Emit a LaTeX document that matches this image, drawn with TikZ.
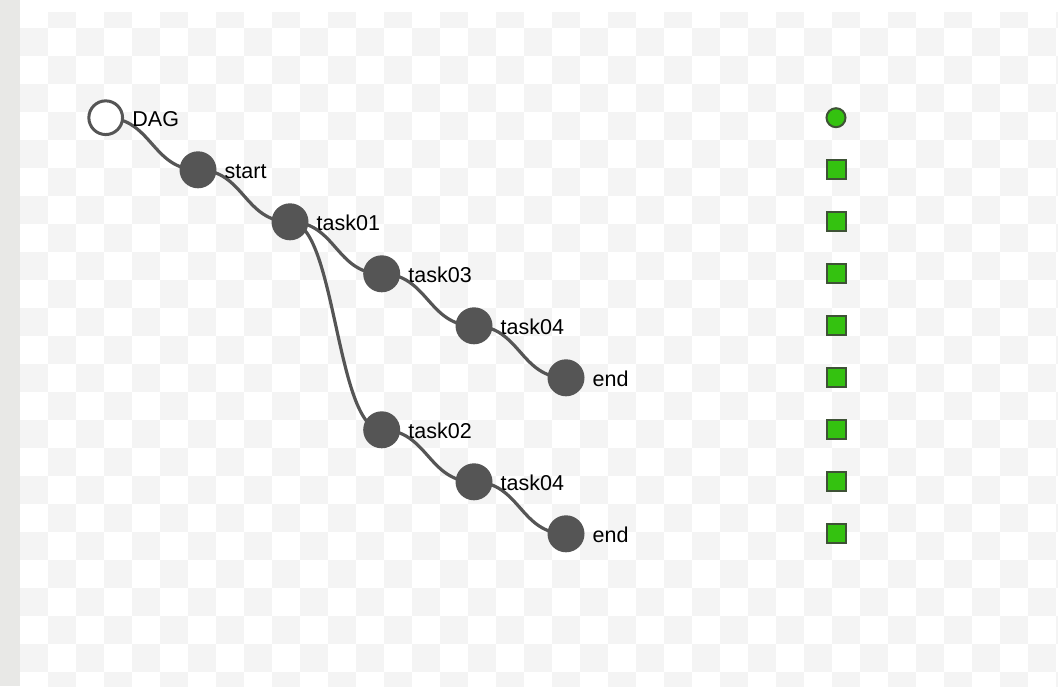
\documentclass[tikz,border=0pt]{standalone}
\usepackage{fontspec}
\setmainfont{Liberation Sans}
\usepackage{xcolor}

\definecolor{nodegray}{RGB}{85,85,85}
\definecolor{cellgray}{RGB}{244,244,244}
\definecolor{sidegray}{RGB}{232,232,230}
\definecolor{okgreen}{RGB}{52,194,16}
\definecolor{okedge}{RGB}{62,82,54}

\pgfdeclarelayer{back}
\pgfdeclarelayer{links}
\pgfsetlayers{back,links,main}

\begin{document}
\begin{tikzpicture}[x=1pt,y=-1pt,
  task/.style={circle, fill=nodegray, minimum size=37pt, inner sep=0pt},
  root/.style={circle, draw=nodegray, line width=3pt, fill=white, minimum size=33.7pt, inner sep=0pt},
  tasklabel/.style={anchor=base west, inner sep=0pt, font=\fontsize{21.5}{25}\selectfont, text=black},
  link/.style={nodegray, line width=3.2pt},
  okdot/.style={circle, draw=okedge, fill=okgreen, line width=2pt, minimum size=19pt, inner sep=0pt},
  oksq/.style={rectangle, draw=okedge, fill=okgreen, line width=2pt, minimum size=19pt, inner sep=0pt}]
\useasboundingbox (0,0) rectangle (1058,686);

% checkered canvas
\begin{pgfonlayer}{back}
\fill[sidegray] (0,0) rectangle (20,686);
\begin{scope}
\clip (20,12) rectangle (1058,686);
\foreach \r in {0,...,24} {
  \foreach \c in {0,...,37} {
    \pgfmathtruncatemacro\odd{mod(\r+\c,2)}
    \ifnum\odd=1
      \fill[cellgray] (20+28*\c,28*\r) rectangle +(28,28);
    \fi
  }
}
\end{scope}
\end{pgfonlayer}

% tree
\node[root] (dag) at (105.7,117.7) {};
\node[task] (start) at (198,169.8) {};
\node[task] (t01) at (290,221.8) {};
\node[task] (t03) at (381.7,273.8) {};
\node[task] (t04a) at (474,325.8) {};
\node[task] (enda) at (566,377.8) {};
\node[task] (t02) at (381.7,429.8) {};
\node[task] (t04b) at (474,481.8) {};
\node[task] (endb) at (566,533.8) {};

\node[tasklabel] (ldag) at (132.2,126) {DAG};
\node[tasklabel] (lstart) at (224.5,178.1) {start};
\node[tasklabel] (lt01) at (316.5,230.1) {task01};
\node[tasklabel] (lt03) at (408.2,282.1) {task03};
\node[tasklabel] (lt04a) at (500.5,334.1) {task04};
\node[tasklabel] (lenda) at (592.5,386.1) {end};
\node[tasklabel] (lt02) at (408.2,438.1) {task02};
\node[tasklabel] (lt04b) at (500.5,490.1) {task04};
\node[tasklabel] (lendb) at (592.5,542.1) {end};

\begin{pgfonlayer}{links}
\draw[link] (dag.center) .. controls +(46,0) and +(-46,0) .. (start.center);
\draw[link] (start.center) .. controls +(46,0) and +(-46,0) .. (t01.center);
\draw[link] (t01.center) .. controls +(46,0) and +(-46,0) .. (t03.center);
\draw[link] (t03.center) .. controls +(46,0) and +(-46,0) .. (t04a.center);
\draw[link] (t04a.center) .. controls +(46,0) and +(-46,0) .. (enda.center);
\draw[link] (t01.center) .. controls +(46,0) and +(-46,0) .. (t02.center);
\draw[link] (t02.center) .. controls +(46,0) and +(-46,0) .. (t04b.center);
\draw[link] (t04b.center) .. controls +(46,0) and +(-46,0) .. (endb.center);
\end{pgfonlayer}

% status column
\node[okdot] (sdag) at (836,117.7) {};
\node[oksq] (sstart) at (836,169.8) {};
\node[oksq] (st01) at (836,221.8) {};
\node[oksq] (st03) at (836,273.8) {};
\node[oksq] (st04a) at (836,325.8) {};
\node[oksq] (senda) at (836,377.8) {};
\node[oksq] (st02) at (836,429.8) {};
\node[oksq] (st04b) at (836,481.8) {};
\node[oksq] (sendb) at (836,533.8) {};
\end{tikzpicture}
\end{document}
